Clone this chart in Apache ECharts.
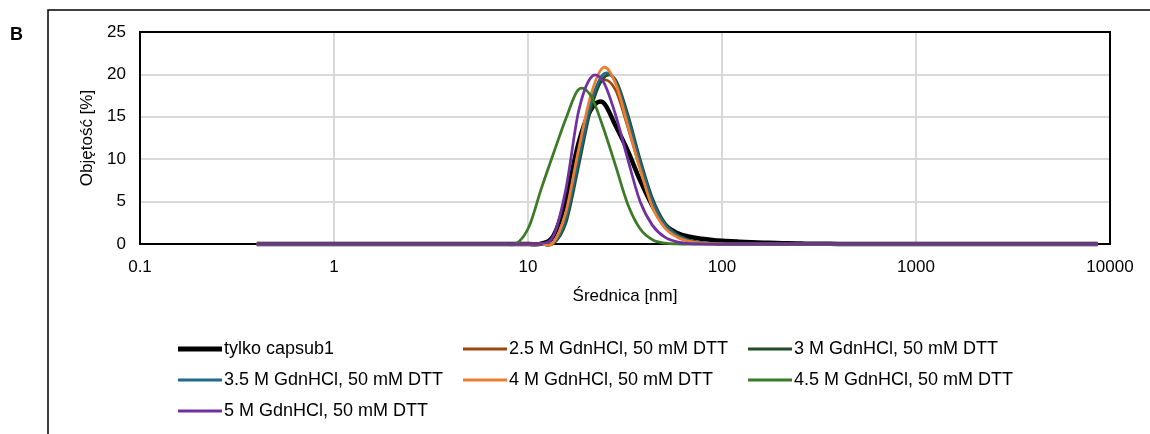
<!DOCTYPE html>
<html>
<head>
<meta charset="utf-8">
<script src="https://cdn.jsdelivr.net/npm/echarts@6/dist/echarts.min.js"></script>
<style>
  html, body { margin: 0; padding: 0; background: #fff; }
  #chart { width: 1150px; height: 434px; }
</style>
</head>
<body>
<div id="chart"></div>
<script>
// size classes [nm]
const sizes = [0.4, 0.4632, 0.5365, 0.6213, 0.7195, 0.8332, 0.9649, 1.117, 1.294, 1.499,
  1.736, 2.01, 2.328, 2.696, 3.122, 3.615, 4.187, 4.849, 5.615, 6.503,
  7.531, 8.721, 10.1, 11.7, 13.54, 15.69, 18.17, 21.04, 24.36, 28.21,
  32.67, 37.84, 43.82, 50.75, 58.77, 68.06, 78.82, 91.28, 105.7, 122.4,
  141.8, 164.2, 190.1, 220.2, 255, 295.3, 342, 396.1, 458.7, 531.2,
  615.1, 712.4, 825, 955.4, 1106, 1281, 1484, 1718, 1990, 2305,
  2669, 3091, 3580, 4145, 4801, 5560, 6439, 7456, 8635];

// volume [%]
const capsub1 = [0,0,0,0,0,0,0,0,0,0, 0,0,0,0,0,0,0,0,0,0,
  0,0,0,0.05,1.0,5.2,11.8,15.8,16.7,14.0,
  11.0,7.5,4.5,2.3,1.3,0.85,0.62,0.45,0.35,0.28,
  0.22,0.16,0.12,0.08,0.05,0.03,0.02,0.01,0,0,
  0,0,0,0,0,0,0,0,0,0, 0,0,0,0,0,0,0,0,0];
const gdn25 = [0,0,0,0,0,0,0,0,0,0, 0,0,0,0,0,0,0,0,0,0,
  0,0,0,0,0.2,3.6,10.6,16.8,19.3,18.2,
  13.8,8.9,4.6,2.1,0.9,0.35,0.1,0,0,0,
  0,0,0,0,0,0,0,0,0,0, 0,0,0,0,0,0,0,0,0,0, 0,0,0,0,0,0,0,0,0];
const gdn30 = [0,0,0,0,0,0,0,0,0,0, 0,0,0,0,0,0,0,0,0,0,
  0,0,0,0,0.05,2.5,9.0,15.8,19.5,19.4,
  15.3,10.0,5.4,2.5,1.1,0.45,0.15,0.05,0,0,
  0,0,0,0,0,0,0,0,0,0, 0,0,0,0,0,0,0,0,0,0, 0,0,0,0,0,0,0,0,0];
const gdn35 = [0,0,0,0,0,0,0,0,0,0, 0,0,0,0,0,0,0,0,0,0,
  0,0,0,0,0.1,3.0,9.8,16.5,20.0,19.2,
  14.8,9.6,5.0,2.3,1.0,0.4,0.15,0.05,0,0,
  0,0,0,0,0,0,0,0,0,0, 0,0,0,0,0,0,0,0,0,0, 0,0,0,0,0,0,0,0,0];
const gdn40 = [0,0,0,0,0,0,0,0,0,0, 0,0,0,0,0,0,0,0,0,0,
  0,0,0,0,0.2,3.8,11.0,17.5,20.8,19.0,
  14.0,8.8,4.3,1.9,0.8,0.3,0.1,0.05,0,0,
  0,0,0,0,0,0,0,0,0,0, 0,0,0,0,0,0,0,0,0,0, 0,0,0,0,0,0,0,0,0];
const gdn45 = [0,0,0,0,0,0,0,0,0,0, 0,0,0,0,0,0,0,0,0,0,
  0,0.05,2.0,6.5,10.7,14.8,18.2,17.5,13.8,9.3,
  4.7,1.8,0.5,0.1,0,0,0,0,0,0,
  0,0,0,0,0,0,0,0,0,0, 0,0,0,0,0,0,0,0,0,0, 0,0,0,0,0,0,0,0,0];
const gdn50 = [0,0,0,0,0,0,0,0,0,0, 0,0,0,0,0,0,0,0,0,0,
  0,0,0,0.05,1.0,6.5,15.5,19.6,19.2,15.3,
  10.0,5.0,2.2,0.8,0.25,0.05,0,0,0,0,
  0,0,0,0,0,0,0,0,0,0, 0,0,0,0,0,0,0,0,0,0, 0,0,0,0,0,0,0,0,0];

const seriesNames = ['tylko capsub1', '2.5 M GdnHCl, 50 mM DTT', '3 M GdnHCl, 50 mM DTT',
  '3.5 M GdnHCl, 50 mM DTT', '4 M GdnHCl, 50 mM DTT', '4.5 M GdnHCl, 50 mM DTT',
  '5 M GdnHCl, 50 mM DTT'];
const seriesValues = [capsub1, gdn25, gdn30, gdn35, gdn40, gdn45, gdn50];
const seriesColors = ['#000000', '#9E480E', '#1E4D26', '#1F6B8A', '#ED7D31', '#3B7A26', '#7030A0'];

const FONT = 'Liberation Sans';
const chart = echarts.init(document.getElementById('chart'));

// smoothed line (Catmull-Rom -> bezier) through the points mapped by the axes
function smoothPath(pts) {
  let d = 'M' + pts[0][0] + ',' + pts[0][1];
  for (let i = 0; i < pts.length - 1; i++) {
    const p0 = pts[Math.max(i - 1, 0)], p1 = pts[i], p2 = pts[i + 1], p3 = pts[Math.min(i + 2, pts.length - 1)];
    const c1x = p1[0] + (p2[0] - p0[0]) / 6, c1y = p1[1] + (p2[1] - p0[1]) / 6;
    const c2x = p2[0] - (p3[0] - p1[0]) / 6, c2y = p2[1] - (p3[1] - p1[1]) / 6;
    d += 'C' + c1x + ',' + c1y + ',' + c2x + ',' + c2y + ',' + p2[0] + ',' + p2[1];
  }
  return d;
}

const series = seriesNames.map((name, i) => {
  const data = sizes.map((d, k) => [d, seriesValues[i][k]]);
  return {
    name: name,
    type: 'custom',
    coordinateSystem: 'cartesian2d',
    itemStyle: { color: seriesColors[i] },
    encode: { x: 0, y: 1 },
    data: data,
    z: 2 + i,
    renderItem: (params, api) => {
      if (params.dataIndex !== 0) return null;
      const pts = data.map(p => api.coord(p));
      return {
        type: 'path',
        shape: { pathData: smoothPath(pts) },
        style: { fill: null, stroke: seriesColors[i], lineWidth: i === 0 ? 4.5 : 2.75, lineJoin: 'round' },
        silent: true
      };
    }
  };
});

const legendSlots = [[178, 339], [463, 339], [748, 339], [178, 370], [463, 370], [748, 370], [178, 401]];
const legends = seriesNames.map((name, i) => ({
  left: legendSlots[i][0],
  top: legendSlots[i][1],
  padding: 0,
  itemWidth: 44,
  itemHeight: i === 0 ? 5 : 3,
  data: [{ name: name, icon: 'rect' }],
  textStyle: { fontFamily: FONT, fontSize: 18, color: '#000', lineHeight: 20, padding: [0, 0, 0, -3] }
}));

const axisText = { fontFamily: FONT, fontSize: 17, color: '#000' };

chart.setOption({
  animation: false,
  grid: { left: 140, top: 32, width: 970, height: 212, show: true, borderColor: '#000', borderWidth: 2, backgroundColor: '#fff' },
  xAxis: [{
    type: 'log',
    logBase: 10,
    min: 0.1,
    max: 10000,
    name: 'Średnica [nm]',
    nameLocation: 'middle',
    nameGap: 44,
    nameTextStyle: axisText,
    axisLine: { show: true, lineStyle: { color: '#000', width: 2 } },
    axisTick: { show: false },
    axisLabel: Object.assign({ margin: 15, formatter: v => String(+v.toPrecision(6)) }, axisText),
    splitLine: { show: true, showMinLine: false, showMaxLine: false, lineStyle: { color: '#d9d9d9', width: 2 } },
    minorSplitLine: { show: false }
  }, {
    type: 'log', logBase: 10, min: 0.1, max: 10000, position: 'top',
    axisLine: { show: true, onZero: false, lineStyle: { color: '#000', width: 2 } },
    axisTick: { show: false }, axisLabel: { show: false }, splitLine: { show: false }
  }],
  yAxis: [{
    type: 'value',
    min: 0,
    max: 25,
    interval: 5,
    name: 'Objętość [%]',
    nameLocation: 'middle',
    nameGap: 43,
    nameTextStyle: axisText,
    axisLine: { show: true, lineStyle: { color: '#000', width: 2 } },
    axisTick: { show: false },
    axisLabel: Object.assign({ margin: 14 }, axisText),
    splitLine: { show: true, showMinLine: false, showMaxLine: false, lineStyle: { color: '#d9d9d9', width: 2 } }
  }, {
    type: 'value', min: 0, max: 25, interval: 5, position: 'right',
    axisLine: { show: true, onZero: false, lineStyle: { color: '#000', width: 2 } },
    axisTick: { show: false }, axisLabel: { show: false }, splitLine: { show: false }
  }],
  legend: legends,
  graphic: [
    { type: 'rect', shape: { x: 48, y: 10, width: 1200, height: 500 }, style: { fill: 'none', stroke: '#000', lineWidth: 1.5 }, z: -1 },
    { type: 'text', left: 10, top: 26, style: { text: 'B', font: 'bold 18px "Liberation Sans"', fill: '#000' } }
  ],
  series: series
});
</script>
</body>
</html>
